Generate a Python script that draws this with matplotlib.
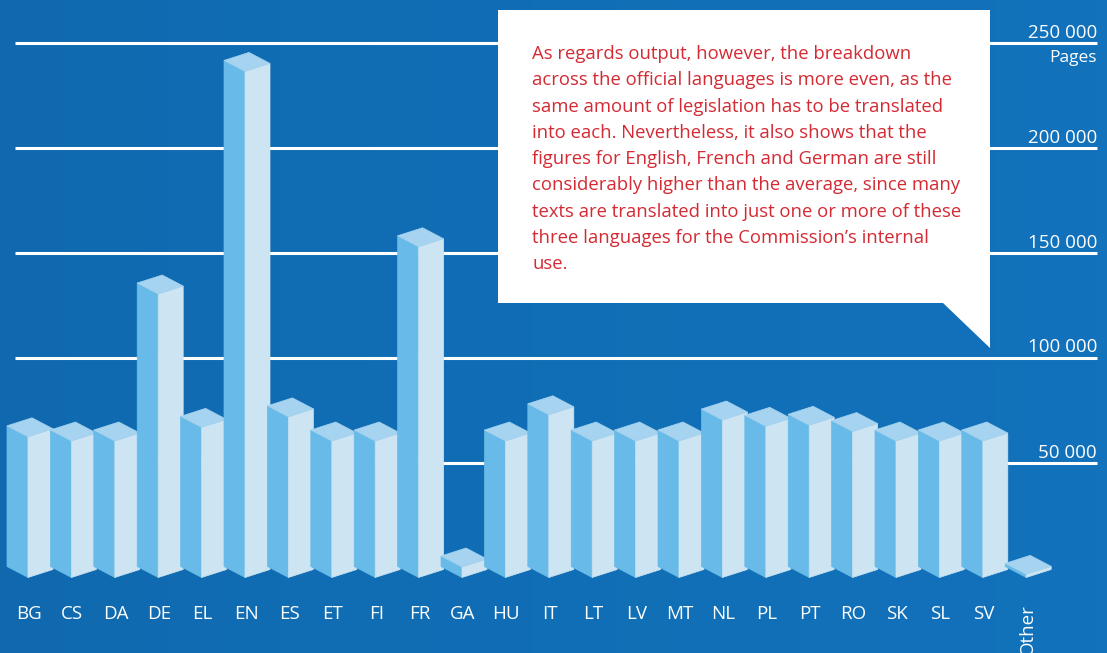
import numpy as np
import matplotlib.pyplot as plt
from matplotlib.colors import LinearSegmentedColormap
from matplotlib.patches import Polygon

# pages translated per language
languages = ['BG', 'CS', 'DA', 'DE', 'EL', 'EN', 'ES', 'ET', 'FI', 'FR', 'GA', 'HU',
             'IT', 'LT', 'LV', 'MT', 'NL', 'PL', 'PT', 'RO', 'SK', 'SL', 'SV', 'Other']
pages = [67000, 65000, 65000, 135000, 71500, 241000, 76500, 65000, 65000, 157500, 5000, 65000,
         77500, 65000, 65000, 65000, 75000, 72000, 72500, 69500, 65000, 65000, 65000, 1500]
grid_values = [50000, 100000, 150000, 200000, 250000]
grid_labels = ['50 000', '100 000', '150 000', '200 000', '250 000']

note = ("As regards output, however, the breakdown\n"
        "across the official languages is more even, as the\n"
        "same amount of legislation has to be translated\n"
        "into each. Nevertheless, it also shows that the\n"
        "figures for English, French and German are still\n"
        "considerably higher than the average, since many\n"
        "texts are translated into just one or more of these\n"
        "three languages for the Commission\u2019s internal\n"
        "use.")

BG = '#1272bb'
LEFT = '#68bbe8'
RIGHT = '#cde4f2'
TOP = '#a6d3ef'
RED = '#d42a33'

W, H = 1107, 653
px_x = 43.4            # pixels per category
px_y = 105 / 50000     # pixels per page
x0_px, y0_px = 28, 568

fig = plt.figure(figsize=(W / 100, H / 100), dpi=100, facecolor=BG)
ax = fig.add_axes([0, 0, 1, 1])
ax.set_facecolor(BG)
ax.set_xlim(-x0_px / px_x, (W - x0_px) / px_x)
ax.set_ylim(-(H - y0_px) / px_y, y0_px / px_y)
ax.axis('off')

def xpx(p):
    return p / px_x

def ypx(p):
    return p / px_y

# slightly darker band behind the bars
shade = LinearSegmentedColormap.from_list('bg', ['#0f63a6', BG])
ax.imshow(np.linspace(0, 1, 256)[None, :] ** 0.7, cmap=shade, aspect='auto', alpha=0.6,
          extent=(xpx(-x0_px), xpx(W - x0_px), ypx(y0_px - H), ypx(y0_px)), zorder=0)

# gridlines behind the bars
for v in grid_values:
    ax.plot([xpx(15 - x0_px), xpx(1097 - x0_px)], [v, v], color='white', lw=2.2,
            solid_capstyle='butt', zorder=1)

# box shape in pixels: left face width, right face width, rise of the left / right corner
wl, wr = xpx(21), xpx(25)
hl, hr = ypx(11), ypx(8)
d = (hl + hr) / 2

def box(x, v, base=0):
    fb = base - d  # front corner at the bottom
    ft = v - d     # front corner at the top
    left = [(x - wl, fb + hl), (x, fb), (x, ft), (x - wl, ft + hl)]
    right = [(x, fb), (x + wr, fb + hr), (x + wr, ft + hr), (x, ft)]
    top = [(x, ft), (x - wl, ft + hl), (x - wl + wr, ft + hl + hr), (x + wr, ft + hr)]
    return left, right, top

for i, v in enumerate(pages):
    left, right, top = box(i, v)
    z = 3 + i * 0.01
    ax.add_patch(Polygon(left, closed=True, facecolor=LEFT, edgecolor=LEFT, lw=0.5, zorder=z))
    ax.add_patch(Polygon(right, closed=True, facecolor=RIGHT, edgecolor=RIGHT, lw=0.5, zorder=z))
    ax.add_patch(Polygon(top, closed=True, facecolor=TOP, edgecolor=TOP, lw=0.5, zorder=z))

# category labels
for i, lab in enumerate(languages):
    if lab == 'Other':
        ax.text(i + xpx(2), -ypx(36), lab, rotation=90, ha='center', va='top',
                color='white', fontsize=13.5, family='Open Sans', zorder=5)
    else:
        ax.text(i + xpx(1), -ypx(46), lab, ha='center', va='center',
                color='white', fontsize=13.5, family='Open Sans', zorder=5)

# value labels sitting on the gridlines
for v, lab in zip(grid_values, grid_labels):
    ax.text(xpx(1097 - x0_px), v + ypx(1.5), lab, ha='right', va='bottom',
            color='white', fontsize=13.5, family='Open Sans', zorder=5)
ax.text(xpx(1097 - x0_px), 250000 - ypx(7), 'Pages', ha='right', va='top',
        color='white', fontsize=12.5, family='Open Sans', zorder=5)

# callout box with pointer
bx0, bx1 = xpx(498 - x0_px), xpx(990 - x0_px)
by_top, by_bot = ypx(y0_px - 10), ypx(y0_px - 303)
tip_y = ypx(y0_px - 348)
ax.add_patch(Polygon([(bx0, by_top), (bx1, by_top), (bx1, tip_y),
                      (xpx(943 - x0_px), by_bot), (bx0, by_bot)],
                     closed=True, facecolor='white', lw=0, zorder=6))
ax.text(xpx(532 - x0_px), ypx(y0_px - 45), note, ha='left', va='top', color=RED,
        fontsize=13.3, family='Open Sans', linespacing=1.59, zorder=7)

fig.savefig('out.png', dpi=100, facecolor=BG)
